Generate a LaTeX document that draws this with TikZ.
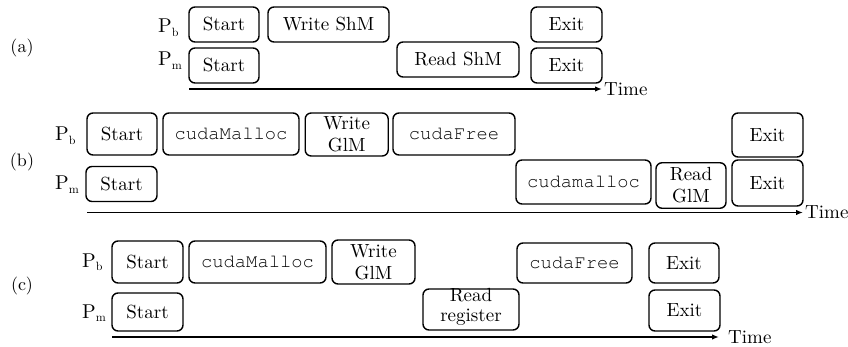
\documentclass[tikz,border=0pt]{standalone}
\usepackage{fontspec}
\setmainfont{lmroman10-regular.otf}
\setmonofont{texgyrecursor-regular.otf}
\usetikzlibrary{arrows.meta}
% process name with a lowered small subscript
\newcommand\procsub[1]{P\raisebox{-3.5pt}{\fontsize{12}{12}\selectfont #1}}
\begin{document}
\begin{tikzpicture}[x=1pt,y=-1pt,
  every node/.style={font=\fontsize{19}{22}\selectfont, inner sep=0pt},
  evt/.style={draw, rounded corners=6pt, line width=1.4pt, align=center},
  code/.style={font=\fontsize{18.8}{22}\selectfont\ttfamily},
  timeline/.style={line width=1.8pt, -{Latex[length=7pt,width=5.5pt]}},
  proc/.style={anchor=base west, font=\fontsize{20}{22}\selectfont},
  tag/.style={font=\fontsize{18}{22}\selectfont},
  timelabel/.style={anchor=west}
]
\useasboundingbox (0,0) rectangle (848,347);

% ---------------- (a) shared memory ----------------
\node[tag] (la) at (22,48) {(a)};
\node[proc] (pba) at (158,33) {\procsub{b}};
\node[proc] (pma) at (158,66) {\procsub{m}};
\node[evt, minimum width=70, minimum height=35] (sa1) at (224,24.5) {Start};
\node[evt, minimum width=121, minimum height=35] (wa) at (328.5,24.5) {Write ShM};
\node[evt, minimum width=71, minimum height=35] (ea1) at (566.5,24.5) {Exit};
\node[evt, minimum width=70, minimum height=35] (sa2) at (224,65.5) {Start};
\node[evt, minimum width=122, minimum height=35] (ra) at (458,59.5) {Read ShM};
\node[evt, minimum width=71, minimum height=35] (ea2) at (566.5,65.5) {Exit};
\coordinate (ta0) at (189,89);
\coordinate (ta1) at (602,89);
\draw[timeline] (ta0) -- (ta1);
\node[timelabel] (tla) at ([xshift=2pt]ta1) {Time};

% ---------------- (b) global memory ----------------
\node[tag] (lb) at (22,162) {(b)};
\node[proc] (pbb) at (55,141) {\procsub{b}};
\node[proc] (pmb) at (55,190) {\procsub{m}};
\node[evt, minimum width=70, minimum height=42] (sb1) at (122,134) {Start};
\node[evt, code, minimum width=136, minimum height=42] (mb) at (231,134) {cudaMalloc};
\node[evt, minimum width=83, minimum height=43] (wb) at (346.7,134.5) {Write\\GlM};
\node[evt, code, minimum width=122, minimum height=42] (fb) at (454,134) {cudaFree};
\node[evt, minimum width=71, minimum height=44] (eb1) at (767.5,135) {Exit};
\node[evt, minimum width=71, minimum height=35] (sb2) at (121.5,184) {Start};
\node[evt, code, minimum width=135, minimum height=44] (mb2) at (583.5,182) {cudamalloc};
\node[evt, minimum width=70, minimum height=45.5] (rb) at (691,185.5) {Read\\GlM};
\node[evt, minimum width=71, minimum height=46] (eb2) at (767.5,183) {Exit};
\coordinate (tb0) at (87,212.5);
\coordinate (tb1) at (803,212.5);
\draw[timeline] (tb0) -- (tb1);
\node[timelabel] (tlb) at ([xshift=2pt]tb1) {Time};

% ---------------- (c) registered memory ----------------
\node[tag] (lc) at (22,286) {(c)};
\node[proc] (pbc) at (82,267) {\procsub{b}};
\node[proc] (pmc) at (82,318) {\procsub{m}};
\node[evt, minimum width=71, minimum height=42] (sc1) at (147.5,262) {Start};
\node[evt, code, minimum width=137, minimum height=42] (mc) at (257.5,262) {cudaMalloc};
\node[evt, minimum width=83, minimum height=44] (wc) at (373.5,262) {Write\\GlM};
\node[evt, code, minimum width=115, minimum height=40] (fc) at (574.5,263) {cudaFree};
\node[evt, minimum width=70, minimum height=40] (ec1) at (684,263) {Exit};
\node[evt, minimum width=71, minimum height=38] (sc2) at (147.5,312) {Start};
\node[evt, minimum width=96, minimum height=41] (rc) at (471,309.5) {};
\node[align=center, font=\fontsize{19}{20}\selectfont] (rct) at ([yshift=3pt]rc.center) {Read\\register};
\node[evt, minimum width=71, minimum height=41] (ec2) at (684.5,310.5) {Exit};
\coordinate (tc0) at (112,337);
\coordinate (tc1) at (719,337);
\draw[timeline] (tc0) -- (tc1);
\node[timelabel] (tlc) at ([xshift=9pt]tc1) {Time};
\end{tikzpicture}
\end{document}
